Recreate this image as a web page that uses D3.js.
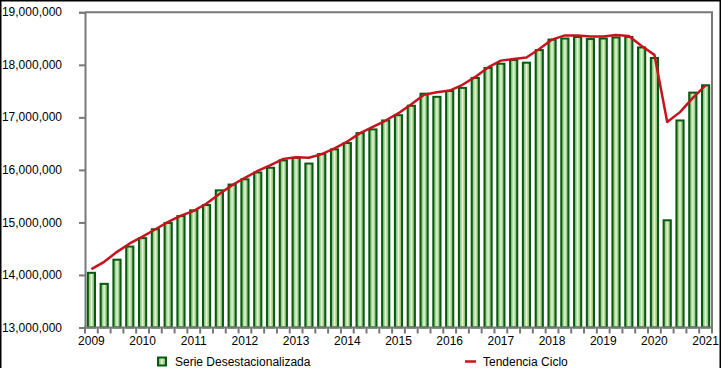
<!DOCTYPE html>
<html><head><meta charset="utf-8">
<script src="https://cdn.jsdelivr.net/npm/d3@7"></script>
<style>html,body{margin:0;padding:0;background:#fff;}svg{display:block;font-family:"Liberation Sans",Arial,sans-serif;}</style>
</head><body>
<svg id="chart" width="722" height="368"></svg>
<script>
const categories = [
"2009-T1","2009-T2","2009-T3","2009-T4","2010-T1","2010-T2","2010-T3","2010-T4",
"2011-T1","2011-T2","2011-T3","2011-T4","2012-T1","2012-T2","2012-T3","2012-T4",
"2013-T1","2013-T2","2013-T3","2013-T4","2014-T1","2014-T2","2014-T3","2014-T4",
"2015-T1","2015-T2","2015-T3","2015-T4","2016-T1","2016-T2","2016-T3","2016-T4",
"2017-T1","2017-T2","2017-T3","2017-T4","2018-T1","2018-T2","2018-T3","2018-T4",
"2019-T1","2019-T2","2019-T3","2019-T4","2020-T1","2020-T2","2020-T3","2020-T4",
"2021-T1"];
const serieDesestacionalizada = [
14060000,13850000,14310000,14560000,14720000,14890000,15010000,15140000,
15250000,15350000,15630000,15740000,15840000,15970000,16060000,16200000,
16250000,16140000,16320000,16410000,16530000,16720000,16790000,16960000,
17060000,17240000,17470000,17410000,17520000,17580000,17770000,17960000,
18040000,18110000,18060000,18300000,18500000,18520000,18550000,18510000,
18520000,18540000,18550000,18350000,18150000,15060000,16960000,17490000,
17630000];
const tendenciaCiclo = [
14110000,14250000,14440000,14600000,14730000,14870000,15010000,15130000,
15220000,15360000,15540000,15710000,15850000,15980000,16090000,16210000,
16240000,16230000,16300000,16410000,16540000,16700000,16820000,16940000,
17080000,17250000,17430000,17480000,17510000,17620000,17770000,17950000,
18080000,18110000,18140000,18300000,18480000,18560000,18560000,18540000,
18540000,18570000,18550000,18360000,18190000,16910000,17100000,17370000,
17610000];
const yearLabels = ["2009","2010","2011","2012","2013","2014","2015","2016","2017","2018","2019","2020","2021"];
const yTicks = [13000000,14000000,15000000,16000000,17000000,18000000,19000000];
const legendLabels = ["Serie Desestacionalizada","Tendencia Ciclo"];

const svg = d3.select("#chart");
const L = 85, R = 712, T = 12.3, B = 327.5;
const fmt = d3.format(",");

const defs = svg.append("defs");
const g1 = defs.append("linearGradient").attr("id","barGrad").attr("x1","0%").attr("x2","100%").attr("y1","0%").attr("y2","0%");
g1.append("stop").attr("offset","0%").attr("stop-color","#6aa852");
g1.append("stop").attr("offset","30%").attr("stop-color","#a8d592");
g1.append("stop").attr("offset","50%").attr("stop-color","#e6f5dc");
g1.append("stop").attr("offset","70%").attr("stop-color","#a8d592");
g1.append("stop").attr("offset","100%").attr("stop-color","#6aa852");

// outer border
svg.append("rect").attr("x",0.75).attr("y",0.75).attr("width",719.5).attr("height",380)
  .attr("fill","none").attr("stroke","#000").attr("stroke-width",1.5);

const xb = d3.scaleBand().domain(categories).range([L, R]);
const y = d3.scaleLinear().domain([13000000, 19000000]).range([B, T]);

// bars
svg.append("g").selectAll("rect").data(serieDesestacionalizada).join("rect")
  .attr("x", (d,i) => xb(categories[i]) + xb.bandwidth()/2 - 3.6)
  .attr("y", d => y(d) + 1)
  .attr("width", 7.2)
  .attr("height", d => B - y(d) - 1)
  .attr("fill","url(#barGrad)")
  .attr("stroke","#075a12").attr("stroke-width",2);

// frame (top/right)
svg.append("path").attr("d", `M${L},${T}H${R}V${B}`).attr("fill","none").attr("stroke","#787878").attr("stroke-width",2);

// y axis
const yAxis = svg.append("g").attr("transform",`translate(${L},0)`)
  .call(d3.axisLeft(y).tickValues(yTicks).tickFormat(fmt).tickSize(6).tickPadding(17));
yAxis.select(".domain").attr("stroke","#787878").attr("stroke-width",2);
yAxis.selectAll(".tick line").attr("stroke","#787878").attr("stroke-width",2);
yAxis.selectAll(".tick text").attr("font-size",12).attr("fill","#000")
  .attr("font-family","'Liberation Sans',Arial,sans-serif").attr("dy","0.3em");

// x axis: ticks at band boundaries
const boundaries = categories.map(c => xb(c)).concat([R]);
const xg = svg.append("g");
xg.selectAll("line").data(boundaries).join("line")
  .attr("x1", d => d).attr("x2", d => d).attr("y1", B).attr("y2", B + 6)
  .attr("stroke","#787878").attr("stroke-width",2);
xg.append("line").attr("x1", L - 1).attr("x2", R + 1).attr("y1", B).attr("y2", B)
  .attr("stroke","#787878").attr("stroke-width",2);
xg.selectAll("text").data(yearLabels).join("text")
  .attr("x", d => xb(d + "-T1") + xb.bandwidth()/2)
  .attr("y", 345)
  .attr("text-anchor","middle").attr("font-size",12).attr("fill","#000")
  .text(d => d);

// trend line
const line = d3.line().x((d,i) => xb(categories[i]) + xb.bandwidth()/2).y(d => y(d));
svg.append("path").datum(tendenciaCiclo).attr("d", line)
  .attr("fill","none").attr("stroke","#c8121e").attr("stroke-width",2.5).attr("stroke-linejoin","round");

// legend
const lg = svg.append("g");
lg.append("rect").attr("x",158).attr("y",357.5).attr("width",8).attr("height",8)
  .attr("fill","url(#barGrad)").attr("stroke","#075a12").attr("stroke-width",2);
lg.append("text").attr("x",175).attr("y",365.5).attr("font-size",12).attr("fill","#000").text(legendLabels[0]);
lg.append("line").attr("x1",465).attr("x2",476).attr("y1",361.5).attr("y2",361.5)
  .attr("stroke","#c8121e").attr("stroke-width",2.5);
lg.append("text").attr("x",483).attr("y",365.5).attr("font-size",12).attr("fill","#000").text(legendLabels[1]);
</script>
</body></html>
